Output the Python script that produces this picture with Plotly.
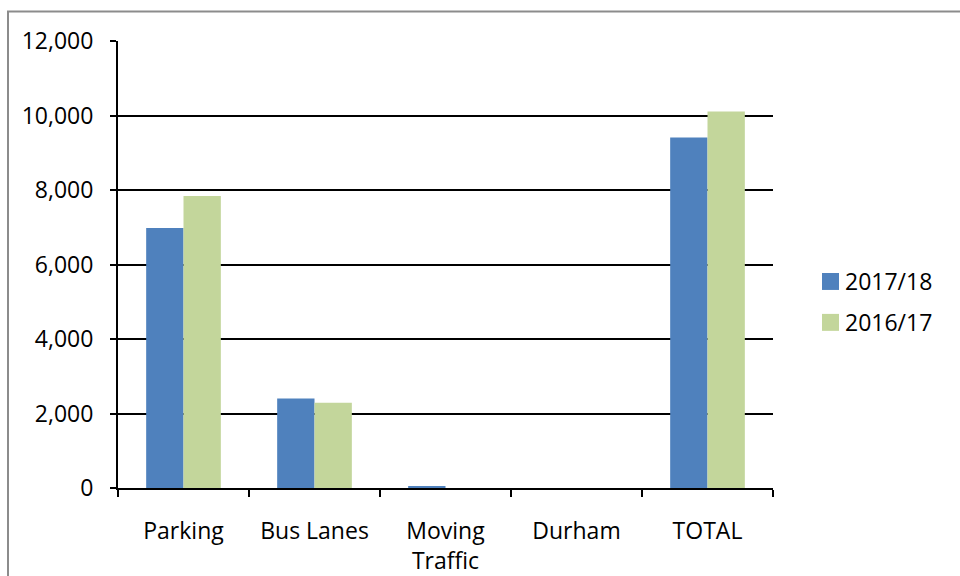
import plotly.graph_objects as go

categories = ["Parking", "Bus Lanes", "Moving<br>Traffic", "Durham", "TOTAL"]
series_names = ["2017/18", "2016/17"]
values_2017_18 = [6980, 2400, 45, 0, 9410]
values_2016_17 = [7840, 2290, 0, 0, 10110]
y_ticks = [0, 2000, 4000, 6000, 8000, 10000, 12000]
colors = ["#4F81BD", "#C3D69B"]

FONT = "Open Sans"
FS = 23

fig = go.Figure()
for name, vals, col in zip(series_names, [values_2017_18, values_2016_17], colors):
    fig.add_trace(go.Bar(x=categories, y=vals, name=name, marker=dict(color=col, line=dict(width=0)),
                         showlegend=False))

# plot area geometry (pixels)
L, R, T, B = 118, 773, 40.5, 488.5
W, H = 960, 576

def px_x(p):
    return (p - L) / (R - L)

def px_y(p):
    return (B - p) / (B - T)

shapes = [
    # outer chart border
    dict(type="rect", xref="paper", yref="paper", x0=px_x(8), x1=px_x(964), y0=px_y(582), y1=px_y(11),
         line=dict(color="#8C8C8C", width=2), fillcolor="rgba(0,0,0,0)", layer="below"),
]
annotations = []
for i, (name, col) in enumerate(zip(series_names, colors)):
    top = 273 + i * 41
    shapes.append(dict(type="rect", xref="paper", yref="paper", x0=px_x(822), x1=px_x(839),
                       y0=px_y(top + 17), y1=px_y(top), line=dict(width=0), fillcolor=col))
    annotations.append(dict(xref="paper", yref="paper", x=px_x(843), y=px_y(top + 8.5), text=name,
                            showarrow=False, xanchor="left", yanchor="middle",
                            font=dict(family=FONT, size=FS, color="black")))

fig.update_layout(
    width=W, height=H,
    margin=dict(l=L, r=W - R, t=T, b=H - B, autoexpand=False),
    paper_bgcolor="white", plot_bgcolor="white",
    barmode="group", bargap=0.43, bargroupgap=0,
    font=dict(family=FONT, size=FS, color="black"),
    shapes=shapes, annotations=annotations,
    showlegend=False,
)
fig.update_xaxes(
    showline=True, linecolor="black", linewidth=2,
    ticks="outside", ticklen=7, tickwidth=2, tickcolor="black",
    tickson="boundaries", ticklabelstandoff=21,
    showgrid=False, tickfont=dict(family=FONT, size=FS, color="black"),
)
fig.update_yaxes(
    range=[0, 12000], tickvals=y_ticks, tickformat=",d",
    showline=True, linecolor="black", linewidth=2,
    ticks="outside", ticklen=6, tickwidth=2, tickcolor="black",
    showgrid=True, gridcolor="black", gridwidth=1.5, zeroline=False,
    ticklabelstandoff=12, tickfont=dict(family=FONT, size=FS, color="black"),
)

fig.write_html("out.html")
